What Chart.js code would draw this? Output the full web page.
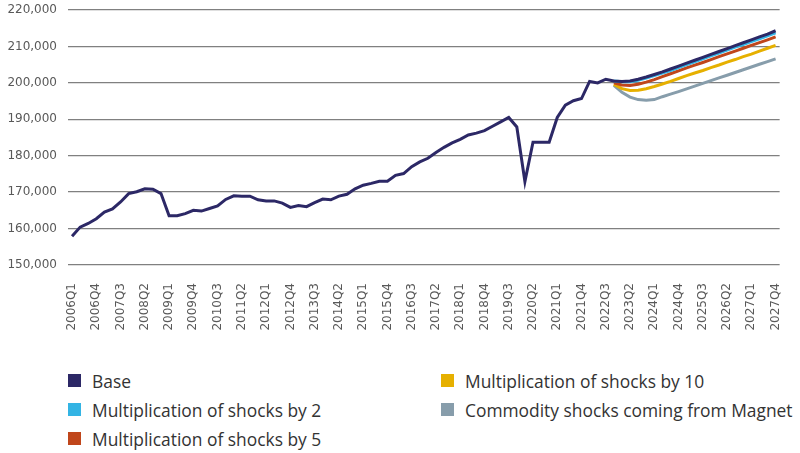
<!DOCTYPE html>
<html>
<head>
<meta charset="utf-8">
<script src="https://cdn.jsdelivr.net/npm/chart.js@4"></script>
<style>
  body { margin: 0; background: #fff; }
  #wrap { position: relative; width: 800px; height: 453px; }
  #legend {
    position: absolute; left: 68px; top: 366px;
    display: grid; grid-template-columns: 373px auto; grid-template-rows: repeat(3, 29px);
    grid-auto-flow: column;
    font-family: "Open Sans", sans-serif; font-size: 17.4px; color: #333;
  }
  .item { display: flex; align-items: center; height: 29px; white-space: nowrap; }
  .box { width: 13px; height: 13px; margin-right: 11px; }
</style>
</head>
<body>
<div id="wrap">
  <canvas id="myChart" width="800" height="340"></canvas>
  <div id="legend"></div>
</div>
<script>
// quarters 2006Q1 .. 2027Q4
var quarters = [];
for (var y = 2006; y <= 2027; y++) {
    for (var q = 1; q <= 4; q++) quarters.push(y + "Q" + q);
}

// Base, 2006Q1 - 2027Q4
var base = [
    157900, 160400, 161400, 162700, 164500, 165400, 167300, 169600,
    170100, 170900, 170800, 169600, 163500, 163500, 164100, 165000,
    164800, 165500, 166200, 168000, 169000, 168900, 168900, 167900,
    167600, 167600, 167000, 165800, 166300, 166000, 167100, 168100,
    167900, 168900, 169400, 170900, 171900, 172400, 173000, 173000,
    174600, 175100, 177000, 178300, 179300, 180900, 182300, 183500,
    184500, 185700, 186200, 186900, 188100, 189300, 190500, 187900,
    172900, 183700, 183700, 183700, 190500, 193900, 195100, 195700,
    200400, 200000, 201000, 200500, 200400, 200500, 201000, 201600,
    202300, 203000, 203800, 204600, 205400, 206200, 207000, 207800,
    208600, 209400, 210200, 211000, 211800, 212600, 213400, 214300
];

// scenarios, 2022Q4 - 2027Q4
var startIndex = 67;
var shocks2 = [
    200500, 200300, 200300, 200700, 201300, 202000, 202700, 203400,
    204200, 205000, 205800, 206600, 207400, 208200, 209000, 209800,
    210500, 211300, 212100, 212900, 213700
];
var shocks5 = [
    200000, 199400, 199300, 199600, 200200, 200900, 201700, 202500,
    203300, 204100, 204850, 205600, 206400, 207200, 207950, 208700,
    209500, 210300, 211050, 211800, 212600
];
var shocks10 = [
    199600, 198400, 197900, 198000, 198400, 199000, 199700, 200400,
    201200, 202000, 202700, 203400, 204200, 204900, 205700, 206400,
    207200, 207900, 208700, 209500, 210300
];
var magnet = [
    199300, 197400, 196100, 195400, 195200, 195400, 196200, 196900,
    197600, 198350, 199100, 199850, 200600, 201350, 202100, 202850,
    203600, 204350, 205100, 205850, 206600
];

var names = ["Base", "Multiplication of shocks by 2", "Multiplication of shocks by 5",
             "Multiplication of shocks by 10", "Commodity shocks coming from Magnet"];
var colors = ["#2c2866", "#33b4e4", "#c0461b", "#e6b000", "#879dab"];

function pad(arr) {
    var out = [];
    for (var i = 0; i < startIndex; i++) out.push(null);
    return out.concat(arr);
}

var series = [base, pad(shocks2), pad(shocks5), pad(shocks10), pad(magnet)];

var ctx = document.getElementById('myChart').getContext('2d');
var myChart = new Chart(ctx, {
    type: 'line',
    data: {
        labels: quarters,
        datasets: series.map(function (d, i) {
            return {
                label: names[i],
                data: d,
                borderColor: colors[i],
                backgroundColor: colors[i],
                borderWidth: 3,
                pointRadius: 0,
                tension: 0,
                spanGaps: false
            };
        })
    },
    options: {
        responsive: false,
        animation: false,
        layout: { padding: { top: 10, left: 0, right: 0, bottom: 0 } },
        plugins: { legend: { display: false }, tooltip: { enabled: false } },
        scales: {
            x: {
                offset: true,
                grid: { display: false },
                border: { display: false },
                afterFit: function (scale) {
                    scale.height = 75;
                    scale.paddingTop = 0; scale.paddingBottom = 0;
                },
                ticks: {
                    autoSkip: false,
                    minRotation: 90,
                    maxRotation: 90,
                    padding: 10,
                    color: '#595959',
                    font: { family: 'DejaVu Sans', size: 12 },
                    callback: function (v, i) { return i % 3 === 0 ? quarters[i] : ''; }
                }
            },
            y: {
                min: 150000,
                max: 220000,
                afterFit: function (scale) {
                    scale.width = 68;
                    scale.paddingTop = 0; scale.paddingBottom = 0;
                },
                grid: { color: '#808080', lineWidth: 1.3, drawTicks: false },
                border: { display: false },
                ticks: {
                    stepSize: 10000,
                    padding: 11,
                    color: '#595959',
                    font: { family: 'DejaVu Sans', size: 12 },
                    callback: function (v) { return v.toLocaleString('en-US'); }
                }
            }
        }
    }
});

// legend in two columns
var legend = document.getElementById('legend');
myChart.data.datasets.forEach(function (ds) {
    var item = document.createElement('div');
    item.className = 'item';
    item.innerHTML = '<span class="box" style="background:' + ds.borderColor + '"></span>' + ds.label;
    legend.appendChild(item);
});
</script>
</body>
</html>
